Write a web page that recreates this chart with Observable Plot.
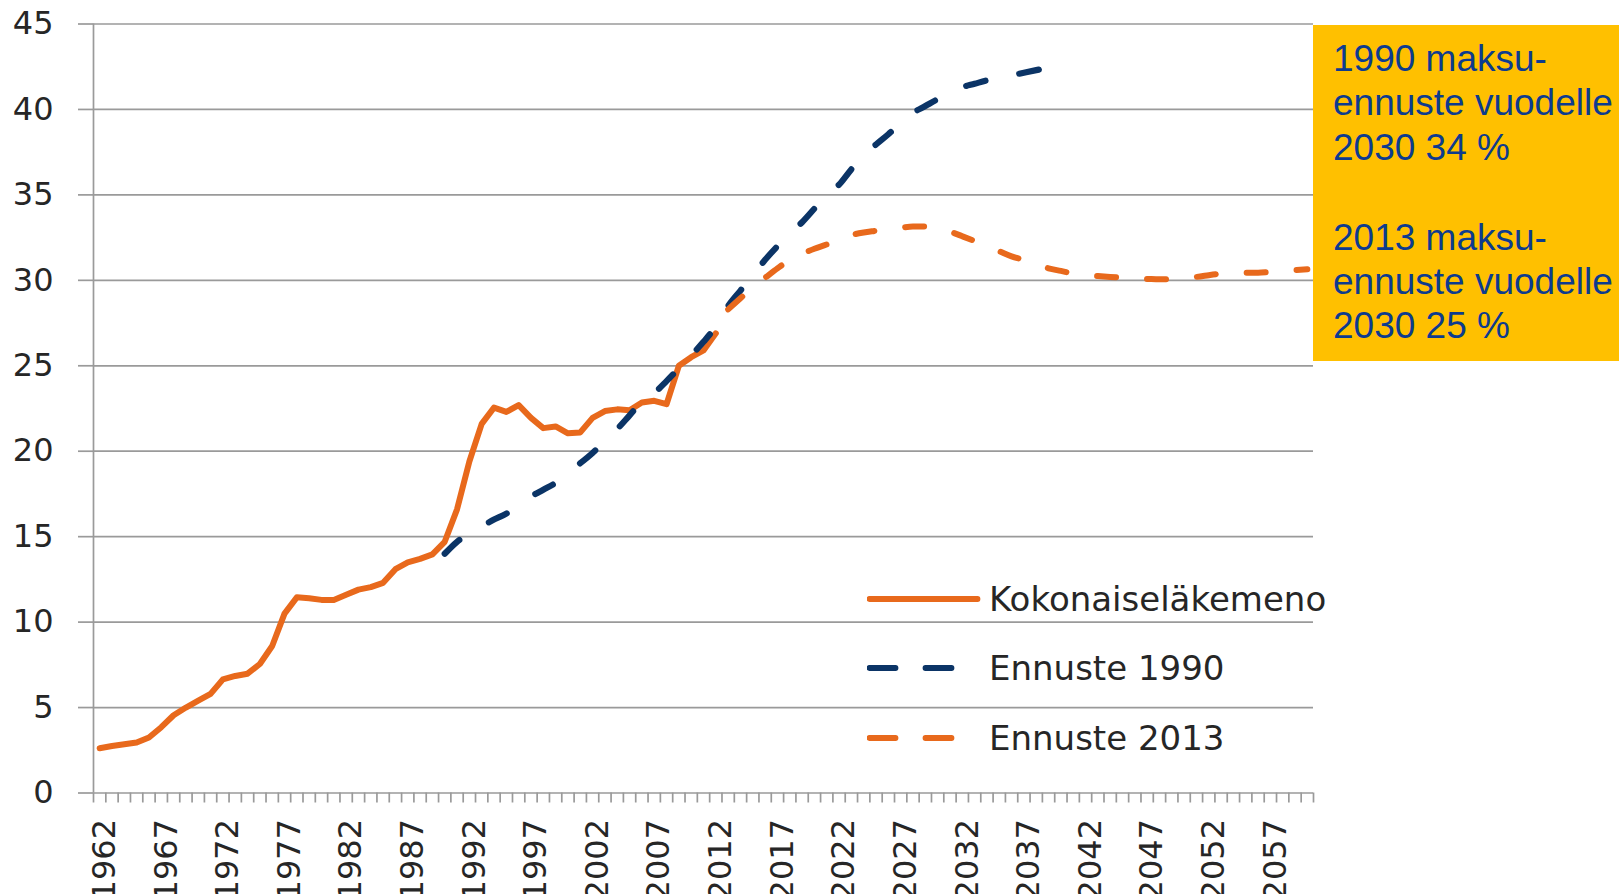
<!DOCTYPE html>
<html><head><meta charset="utf-8">
<script src="https://cdn.jsdelivr.net/npm/d3@7"></script>
<script src="https://cdn.jsdelivr.net/npm/@observablehq/plot@0.6"></script>
<style>
body{margin:0;background:#fff;}
#wrap{position:relative;width:1619px;height:894px;overflow:hidden;font-family:"DejaVu Sans",sans-serif;}
#wrap svg.plot{position:absolute;left:0;top:0;}
.box{position:absolute;left:1313px;top:25px;width:306px;height:336px;background:#FFC000;box-sizing:border-box;padding:12px 0 0 20px;font-family:"Liberation Sans",Arial,sans-serif;font-size:37px;line-height:44.3px;color:#0D3B8E;white-space:nowrap;}
.box .b2{margin-top:46px;}
.leg{position:absolute;left:867px;height:40px;display:flex;align-items:center;font-size:34px;color:#262626;white-space:nowrap;}
.leg svg{width:122px;height:40px;flex:none;}
</style></head><body><div id="wrap"></div>
<script>
// Categories
const firstYear = 1962;
const lastYear = 2060;
const labelYears = [1962, 1967, 1972, 1977, 1982, 1987, 1992, 1997, 2002, 2007, 2012, 2017, 2022, 2027, 2032, 2037, 2042, 2047, 2052, 2057];
const yTicks = [0, 5, 10, 15, 20, 25, 30, 35, 40, 45];
const seriesNames = ["Kokonaiseläkemeno", "Ennuste 1990", "Ennuste 2013"];

// Kokonaiseläkemeno 1962–2012
const histStart = 1962;
const histValues = [2.62, 2.75, 2.85, 2.95, 3.25, 3.85, 4.55, 5.0, 5.4, 5.8,
  6.65, 6.85, 6.98, 7.55, 8.6, 10.5, 11.45, 11.4, 11.3, 11.3,
  11.6, 11.9, 12.05, 12.3, 13.1, 13.5, 13.7, 13.96, 14.7, 16.6,
  19.4, 21.6, 22.55, 22.3, 22.7, 21.95, 21.35, 21.45, 21.05, 21.1,
  21.95, 22.35, 22.45, 22.4, 22.85, 22.95, 22.75, 25.0, 25.5, 25.9, 26.9];

// Ennuste 1990: 1990–2039
const f1990Start = 1990;
const f1990Values = [14.0, 14.7, 15.2, 15.6, 16.0, 16.35, 16.85, 17.35, 17.75, 18.15,
  18.75, 19.3, 19.9, 20.6, 21.3, 22.1, 22.9, 23.4, 24.1, 24.85,
  25.6, 26.4, 27.3, 28.5, 29.4, 30.3, 31.2, 32.0, 32.7, 33.4,
  34.2, 35.0, 35.6, 36.5, 37.3, 37.95, 38.55, 39.2, 39.8, 40.2,
  40.6, 40.95, 41.3, 41.5, 41.7, 41.85, 42.0, 42.15, 42.3, 42.45];

// Ennuste 2013: 2013–2060
const f2013Start = 2013;
const f2013Values = [28.3, 28.95, 29.6, 30.15, 30.7, 31.2, 31.55, 31.85, 32.1, 32.4,
  32.65, 32.8, 32.9, 33.0, 33.08, 33.15, 33.15, 33.05, 32.85, 32.58,
  32.3, 32.0, 31.7, 31.4, 31.2, 30.95, 30.7, 30.55, 30.4, 30.3,
  30.25, 30.2, 30.15, 30.1, 30.08, 30.06, 30.08, 30.12, 30.2, 30.3,
  30.4, 30.45, 30.45, 30.45, 30.5, 30.55, 30.6, 30.65];

const boxLines1 = ["1990 maksu-", "ennuste vuodelle", "2030 34 %"];
const boxLines2 = ["2013 maksu-", "ennuste vuodelle", "2030 25 %"];

const colors = {hist: "#E8691C", f1990: "#0B3466", f2013: "#E8691C", grid: "#9a9a9a"};

const toRows = (start, vals) => vals.map((v, i) => ({year: start + i, value: v}));
const hist = toRows(histStart, histValues);
const f1990 = toRows(f1990Start, f1990Values);
const f2013 = toRows(f2013Start, f2013Values);
const boundaries = d3.range(firstYear - 0.5, lastYear + 1, 1);

const chart = Plot.plot({
  width: 1619, height: 894,
  marginLeft: 93, marginRight: 306, marginTop: 23.5, marginBottom: 101.5,
  style: {fontFamily: "DejaVu Sans", fontSize: "32px", color: "#262626", background: "transparent", overflow: "visible"},
  x: {type: "linear", domain: [firstYear - 0.5, lastYear + 0.5]},
  y: {domain: [0, 45]},
  marks: [
    Plot.gridY(yTicks, {stroke: colors.grid, strokeOpacity: 1, strokeWidth: 1.7}),
    Plot.axisY(yTicks, {tickSize: 15, tickPadding: 25, stroke: colors.grid, strokeWidth: 1.7, fill: "#262626", fontSize: 32, label: null, tickFormat: d => String(d)}),
    Plot.ruleX([firstYear - 0.5], {stroke: colors.grid, strokeWidth: 1.7}),
    Plot.axisX(boundaries, {tickSize: 10, tickFormat: () => "", stroke: colors.grid, strokeWidth: 1.7, label: null}),
    Plot.axisX(labelYears, {tickSize: 0, tickPadding: 26, tickRotate: -90, tickFormat: d => String(d), fill: "#262626", fontSize: 32, dx: 5, label: null}),
    Plot.line(hist, {x: "year", y: "value", stroke: colors.hist, strokeWidth: 6, strokeLinejoin: "round", strokeLinecap: "round"}),
    Plot.line(f1990, {x: "year", y: "value", stroke: colors.f1990, strokeWidth: 6.2, strokeDasharray: "20,34.5", strokeLinecap: "round", curve: "monotone-x"}),
    Plot.line(f2013, {x: "year", y: "value", stroke: colors.f2013, strokeWidth: 6, strokeDasharray: "19,31", strokeLinecap: "round", curve: "monotone-x"})
  ]
});
chart.classList.add("plot");
const wrap = document.getElementById("wrap");
wrap.appendChild(chart);

// Annotation box
const box = document.createElement("div");
box.className = "box";
box.innerHTML = `<div>${boxLines1.join("<br>")}</div><div class="b2">${boxLines2.join("<br>")}</div>`;
wrap.appendChild(box);

// Legend
const legRows = [
  {name: seriesNames[0], color: colors.hist, dash: null, center: 599},
  {name: seriesNames[1], color: colors.f1990, dash: "26,30", center: 668},
  {name: seriesNames[2], color: colors.f2013, dash: "26,30", center: 738}
];
legRows.forEach(r => {
  const d = document.createElement("div");
  d.className = "leg";
  d.style.top = (r.center - 20) + "px";
  const x2 = r.dash ? 85.5 : 110.5;
  d.innerHTML = `<svg viewBox="0 0 122 40"><line x1="2.5" x2="${x2}" y1="20" y2="20" stroke="${r.color}" stroke-width="5.8" stroke-linecap="round" ${r.dash ? `stroke-dasharray="${r.dash}"` : ""}/></svg><span>${r.name}</span>`;
  wrap.appendChild(d);
});
</script></body></html>
